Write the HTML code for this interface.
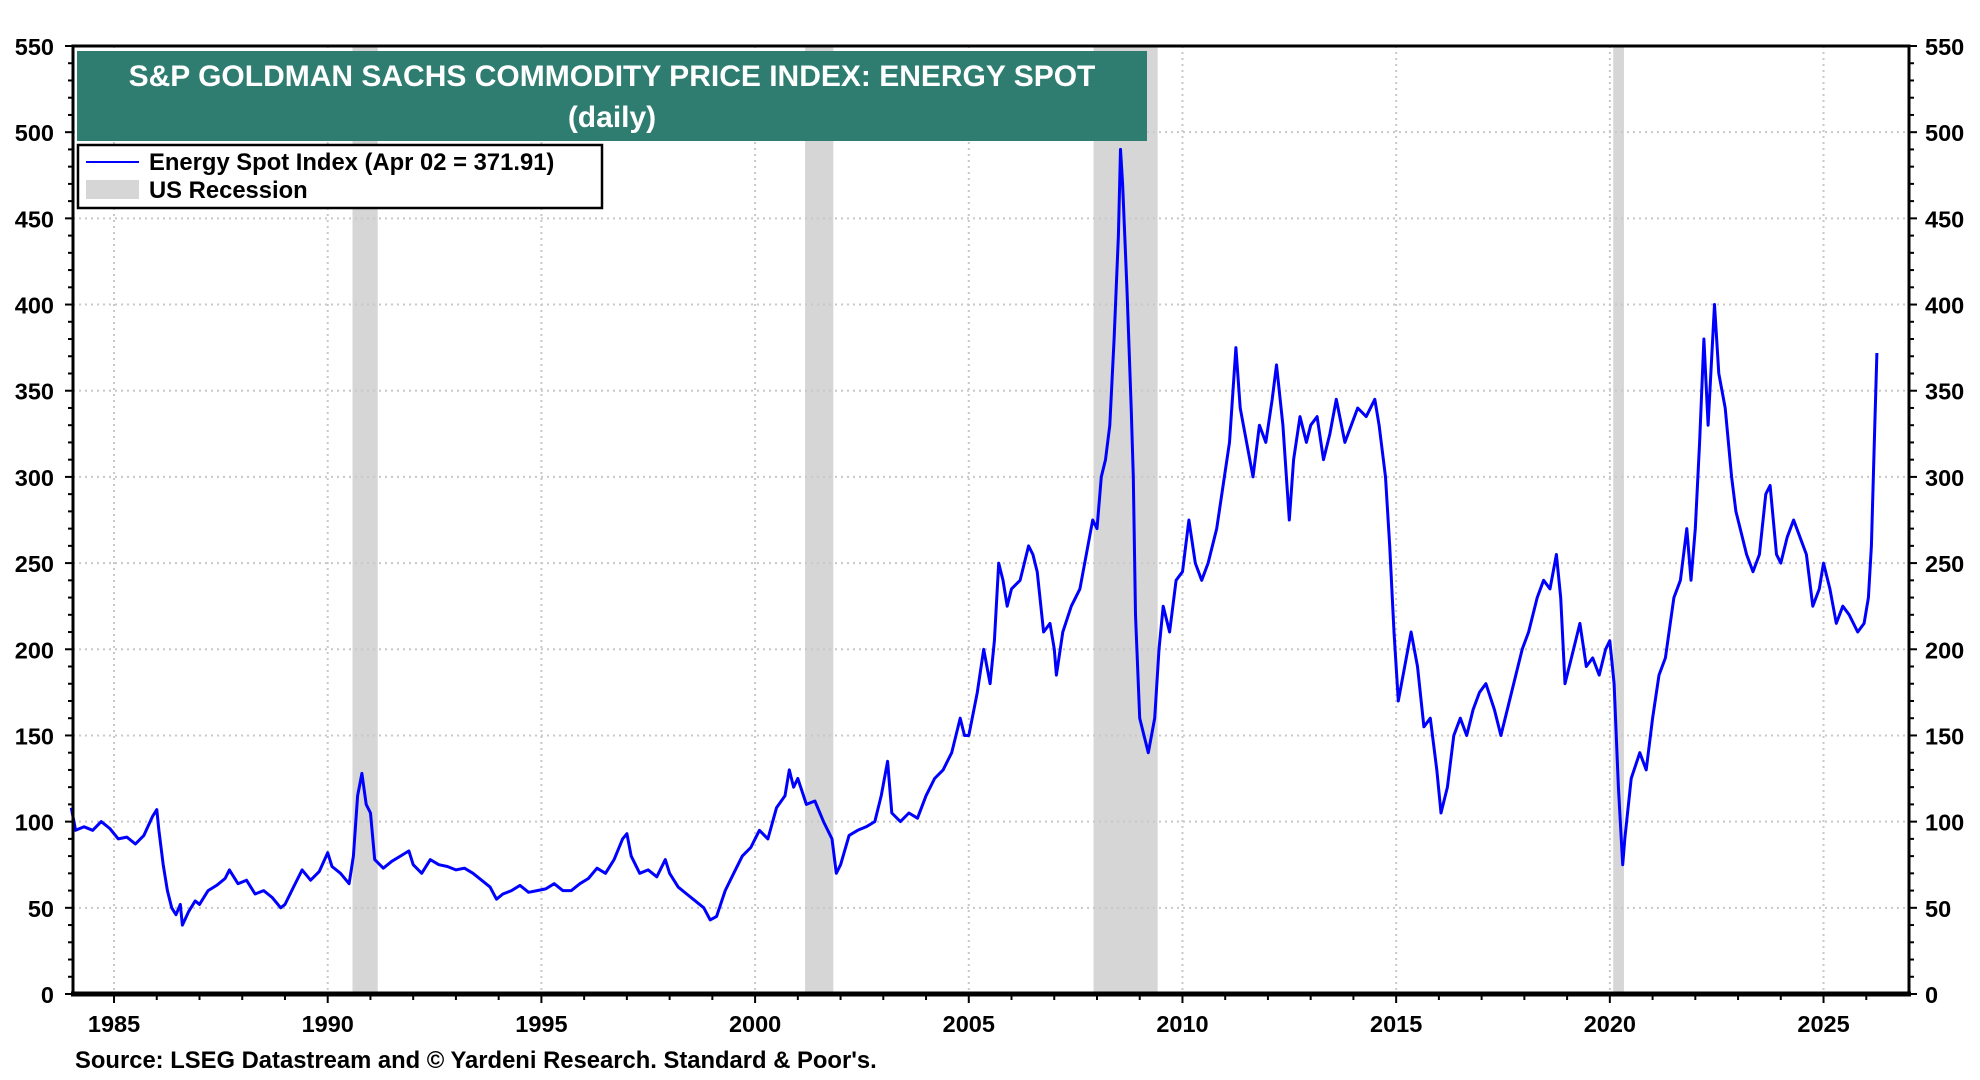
<!DOCTYPE html>
<html><head><meta charset="utf-8"><style>
html,body{margin:0;padding:0;background:#fff;}
svg{display:block;font-family:"Liberation Sans",Arial,sans-serif;font-weight:bold;}
</style></head><body>
<svg id="chart" width="1980" height="1080" viewBox="0 0 1980 1080">
<g id="rec"></g>
<g id="grid"></g>
<g id="series"></g>
<g id="axes"></g>
<rect x="77" y="51" width="1070" height="90" fill="#2e7d70"/>
<text x="612" y="86" text-anchor="middle" fill="#fff" font-size="30">S&amp;P GOLDMAN SACHS COMMODITY PRICE INDEX: ENERGY SPOT</text>
<text x="612" y="127" text-anchor="middle" fill="#fff" font-size="30">(daily)</text>
<g>
<rect x="78" y="145" width="524" height="63" fill="#fff" stroke="#000" stroke-width="2.5"/>
<line x1="86" y1="162" x2="139" y2="162" stroke="#0000ff" stroke-width="2"/>
<text x="149" y="170" font-size="23.8" fill="#000">Energy Spot Index (Apr 02 = 371.91)</text>
<rect x="86" y="180" width="53" height="19" fill="#d6d6d6"/>
<text x="149" y="198" font-size="23.8" fill="#000">US Recession</text>
</g>
<text x="75" y="1068" font-size="23.8" fill="#000">Source: LSEG Datastream and © Yardeni Research. Standard &amp; Poor's.</text>
</svg>
<script>
const years=[1984.0,1984.1,1984.3,1984.5,1984.7,1984.9,1985.1,1985.3,1985.5,1985.7,1985.9,1986.0,1986.05,1986.15,1986.25,1986.35,1986.45,1986.55,1986.6,1986.75,1986.9,1987.0,1987.2,1987.4,1987.6,1987.7,1987.9,1988.1,1988.3,1988.5,1988.7,1988.9,1989.0,1989.2,1989.4,1989.6,1989.8,1990.0,1990.1,1990.3,1990.5,1990.6,1990.7,1990.8,1990.9,1991.0,1991.1,1991.3,1991.5,1991.7,1991.9,1992.0,1992.2,1992.4,1992.6,1992.8,1993.0,1993.2,1993.4,1993.6,1993.8,1993.95,1994.1,1994.3,1994.5,1994.7,1994.9,1995.1,1995.3,1995.5,1995.7,1995.9,1996.1,1996.3,1996.5,1996.7,1996.9,1997.0,1997.1,1997.3,1997.5,1997.7,1997.9,1998.0,1998.2,1998.4,1998.6,1998.8,1998.95,1999.1,1999.3,1999.5,1999.7,1999.9,2000.1,2000.3,2000.5,2000.7,2000.8,2000.9,2001.0,2001.2,2001.4,2001.6,2001.8,2001.9,2002.0,2002.2,2002.4,2002.6,2002.8,2002.95,2003.1,2003.2,2003.4,2003.6,2003.8,2004.0,2004.2,2004.4,2004.6,2004.8,2004.9,2005.0,2005.2,2005.35,2005.5,2005.6,2005.7,2005.8,2005.9,2006.0,2006.2,2006.4,2006.5,2006.6,2006.75,2006.9,2007.0,2007.05,2007.2,2007.4,2007.6,2007.75,2007.9,2008.0,2008.1,2008.2,2008.3,2008.4,2008.5,2008.55,2008.6,2008.7,2008.8,2008.85,2008.9,2009.0,2009.1,2009.2,2009.35,2009.45,2009.55,2009.7,2009.85,2010.0,2010.15,2010.3,2010.45,2010.6,2010.8,2010.95,2011.1,2011.25,2011.35,2011.5,2011.65,2011.8,2011.95,2012.1,2012.2,2012.35,2012.5,2012.6,2012.75,2012.9,2013.0,2013.15,2013.3,2013.45,2013.6,2013.8,2013.95,2014.1,2014.3,2014.5,2014.6,2014.75,2014.85,2014.95,2015.05,2015.2,2015.35,2015.5,2015.65,2015.8,2015.95,2016.05,2016.2,2016.35,2016.5,2016.65,2016.8,2016.95,2017.1,2017.3,2017.45,2017.6,2017.8,2017.95,2018.1,2018.3,2018.45,2018.6,2018.75,2018.85,2018.95,2019.1,2019.3,2019.45,2019.6,2019.75,2019.9,2020.0,2020.1,2020.2,2020.3,2020.35,2020.5,2020.7,2020.85,2021.0,2021.15,2021.3,2021.5,2021.65,2021.8,2021.9,2022.0,2022.1,2022.2,2022.3,2022.45,2022.55,2022.7,2022.85,2022.95,2023.05,2023.2,2023.35,2023.5,2023.65,2023.75,2023.9,2024.0,2024.15,2024.3,2024.45,2024.6,2024.75,2024.9,2025.0,2025.15,2025.3,2025.45,2025.6,2025.8,2025.95,2026.05,2026.12,2026.2,2026.25];
const values=[108,95,97,95,100,96,90,91,87,92,103,107,95,75,60,50,46,52,40,48,54,52,60,63,67,72,64,66,58,60,56,50,52,62,72,66,71,82,74,70,64,80,115,128,110,105,78,73,77,80,83,75,70,78,75,74,72,73,70,66,62,55,58,60,63,59,60,61,64,60,60,64,67,73,70,78,90,93,80,70,72,68,78,70,62,58,54,50,43,45,60,70,80,85,95,90,108,115,130,120,125,110,112,100,90,70,75,92,95,97,100,115,135,105,100,105,102,115,125,130,140,160,150,150,175,200,180,205,250,240,225,235,240,260,255,245,210,215,200,185,210,225,235,255,275,270,300,310,330,380,440,490,470,410,340,300,220,160,150,140,160,200,225,210,240,245,275,250,240,250,270,295,320,375,340,320,300,330,320,345,365,330,275,310,335,320,330,335,310,325,345,320,330,340,335,345,330,300,260,210,170,190,210,190,155,160,130,105,120,150,160,150,165,175,180,165,150,165,185,200,210,230,240,235,255,230,180,195,215,190,195,185,200,205,180,120,75,90,125,140,130,160,185,195,230,240,270,240,270,320,380,330,400,360,340,300,280,270,255,245,255,290,295,255,250,265,275,265,255,225,235,250,235,215,225,220,210,215,230,260,330,371.91];
const yTicks=[0,50,100,150,200,250,300,350,400,450,500,550];
const xTickYears=[1985,1990,1995,2000,2005,2010,2015,2020,2025];
const recStart=[1990.58,2001.17,2007.92,2020.08];
const recEnd=[1991.17,2001.83,2009.42,2020.33];

const L=73,R=1909,T=46,B=994,X0=1984.04,X1=2027.0,Ymax=550;
const NS="http://www.w3.org/2000/svg";
function xs(t){return L+(t-X0)/(X1-X0)*(R-L);}
function ys(v){return B-v/Ymax*(B-T);}
function mk(tag,attrs,parent){const e=document.createElementNS(NS,tag);for(const k in attrs)e.setAttribute(k,attrs[k]);document.getElementById(parent).appendChild(e);return e;}

for(let i=0;i<recStart.length;i++){
  const r=mk('rect',{x:xs(recStart[i]),y:T,width:xs(recEnd[i])-xs(recStart[i]),height:B-T,fill:'#d6d6d6'},'rec');
  
  
}
yTicks.forEach(v=>{
  if(v>0&&v<Ymax){const g=mk('line',{x1:L,x2:R,y1:ys(v),y2:ys(v),stroke:'#c8c8c8','stroke-width':2,'stroke-dasharray':'2,4'},'grid');
  
  }
  const tl=mk('text',{x:L-19,y:ys(v)+9,'text-anchor':'end','font-size':23.5,fill:'#000'},'axes');tl.textContent=v;
  
  
  const tr=mk('text',{x:R+16,y:ys(v)+9,'text-anchor':'start','font-size':23.5,fill:'#000'},'axes');tr.textContent=v;
  
  
});
for(let v=0;v<=Ymax;v+=10){
  const big=v%50===0, len=big?8:5;
  mk('line',{x1:L-len,x2:L,y1:ys(v),y2:ys(v),stroke:'#000','stroke-width':2},'axes');
  mk('line',{x1:R,x2:R+len,y1:ys(v),y2:ys(v),stroke:'#000','stroke-width':2},'axes');
}
xTickYears.forEach(yr=>{
  const g=mk('line',{x1:xs(yr),x2:xs(yr),y1:T,y2:B,stroke:'#c8c8c8','stroke-width':2,'stroke-dasharray':'2,4'},'grid');
  
  
  const t=mk('text',{x:xs(yr),y:B+38,'text-anchor':'middle','font-size':23.5,fill:'#000'},'axes');t.textContent=yr;
  
  
});
for(let yr=1985;yr<=2026;yr++){
  mk('line',{x1:xs(yr),x2:xs(yr),y1:B,y2:B+(yr%5===0?9:6),stroke:'#000','stroke-width':2},'axes');
}
let d='';
for(let i=0;i<years.length;i++){d+=(i?'L':'M')+xs(years[i]).toFixed(1)+','+ys(values[i]).toFixed(1);}
const p=mk('path',{d:d,fill:'none',stroke:'#0000ff','stroke-width':3,'stroke-linejoin':'round'},'series');


const fr=mk('rect',{x:L,y:T,width:R-L,height:B-T,fill:'none',stroke:'#000','stroke-width':3},'axes');


mk('line',{x1:L-2,x2:R+2,y1:B,y2:B,stroke:'#000','stroke-width':5},'axes');
</script>
</body></html>
